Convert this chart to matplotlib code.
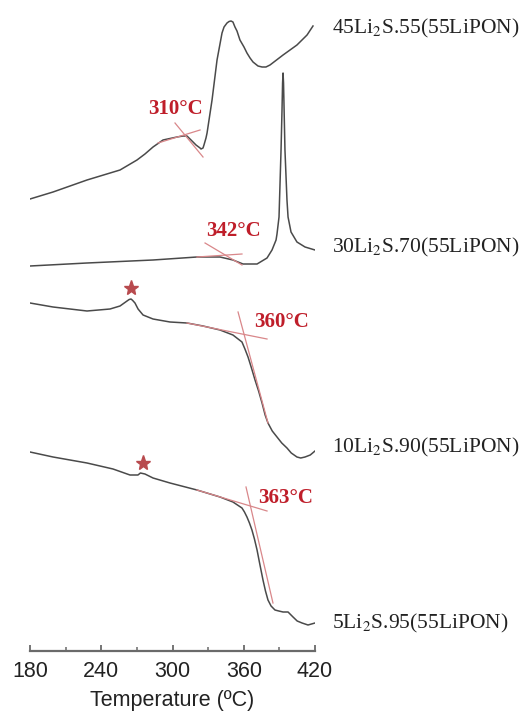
import matplotlib
matplotlib.use("Agg")
import matplotlib.pyplot as plt
from matplotlib.ticker import MultipleLocator

plt.rcParams['mathtext.fontset'] = 'stix'

# DSC traces, temperature (C) and heat flow (a.u., offset)
t1 = [180, 199.4, 228, 255.8, 270.1, 276.8, 283.6, 292, 303.8, 308.8, 312.2, 317.3, 319.8, 323.2,
      324.0, 325.7, 326.5, 328.2, 329.1, 333.3, 337.5, 341.7, 343.4, 345.9, 347.6, 349.3, 350.9,
      352.6, 354.3, 356.8, 360.2, 362.7, 365.3, 367.8, 372.0, 375.4, 378.7, 382.1, 393.1, 404.8,
      413.3, 418.3]
h1 = [45.2, 45.9, 47.1, 48.1, 49.1, 49.7, 50.4, 51.1, 51.4, 51.5, 51.5, 50.9, 50.6, 50.3,
      50.2, 50.3, 50.6, 51.3, 51.8, 55.1, 59.1, 61.8, 62.4, 62.8, 62.95, 63.0, 62.9,
      62.4, 62.0, 61.1, 60.4, 59.8, 59.3, 58.9, 58.5, 58.4, 58.4, 58.6, 59.6, 60.6,
      61.6, 62.5]

t2 = [180, 228, 283.6, 320.6, 340, 350.9, 359.4, 371.2, 379.6, 383.8, 387.2, 388.0, 389.7, 391.4,
      392.2, 392.7, 393.1, 393.5, 394.0, 394.7, 396.4, 397.3, 399.8, 404.8, 411.6, 420]
h2 = [38.5, 38.8, 39.1, 39.4, 39.4, 39.1, 38.7, 38.7, 39.3, 40.1, 41.1, 41.7, 43.4, 50.1,
      54.0, 56.8, 57.8, 56.8, 54.0, 50.1, 45.1, 43.4, 41.9, 40.9, 40.4, 40.1]

t3 = [180, 199.4, 228, 247.4, 255.8, 261.7, 263.5, 265.1, 266.5, 268.4, 271.0, 275.2, 283.6, 297.9,
      312.2, 325.7, 340, 350.9, 358.5, 361.0, 363.6, 366.5, 369.5, 372.5, 375.4, 378.0, 380.4,
      384.0, 388, 392.0, 396.4, 400.0, 404.8, 408.0, 411.6, 416.0, 420]
h3 = [34.8, 34.4, 34.0, 34.2, 34.5, 35.0, 35.15, 35.2, 35.05, 34.8, 34.2, 33.6, 33.2, 32.9,
      32.8, 32.5, 32.1, 31.6, 30.9, 30.2, 29.4, 28.3, 27.1, 26.0, 24.8, 23.6, 22.8,
      22.0, 21.4, 20.8, 20.3, 19.8, 19.4, 19.3, 19.4, 19.6, 20.0]

t4 = [180, 199.4, 228, 249.9, 264.2, 270.9, 273, 276.8, 283.6, 297.9, 320.6, 340, 350.9, 358.5,
      360.6, 362.7, 364.8, 366.9, 369.0, 371.2, 373.5, 376.2, 378.3, 380.4, 383.0, 386.3, 389.5,
      393.1, 397.3, 401.5, 405.0, 409.1, 414.1, 420]
h4 = [19.9, 19.4, 18.8, 18.2, 17.6, 17.6, 17.8, 17.7, 17.3, 16.8, 16.1, 15.4, 14.9, 14.3,
      13.9, 13.4, 12.8, 12.1, 11.2, 10.1, 8.7, 7.1, 6.0, 5.1, 4.5, 4.1, 4.0,
      3.9, 3.9, 3.4, 3.0, 2.8, 2.6, 2.8]

names = ["45Li$_2$S.55(55LiPON)", "30Li$_2$S.70(55LiPON)",
         "10Li$_2$S.90(55LiPON)", "5Li$_2$S.95(55LiPON)"]
name_h = [62.3, 40.4, 20.4, 2.8]

# onset tangent lines: (T1, h1, T2, h2)
tangents = [
    [(287.8, 50.8, 323.2, 52.1), (302.1, 52.8, 325.7, 49.4)],
    [(327.4, 40.8, 358.5, 38.6), (320.6, 39.4, 358.5, 39.7)],
    [(312.2, 32.8, 379.6, 31.2), (355.2, 33.9, 380.4, 22.8)],
    [(320.6, 16.1, 379.6, 14.0), (361.9, 16.4, 384.6, 4.8)],
]
onsets = ["310°C", "342°C", "360°C", "363°C"]
onset_T = [302.5, 351.4, 392.2, 395.2]
onset_h = [54.2, 42.0, 32.9, 15.3]

star_T = [265.1, 275.2]
star_h = [36.3, 18.8]

fig = plt.figure(figsize=(5.24, 7.13), dpi=100)
ax = fig.add_axes([30/524, 62/713, 285/524, 651/713])

for t, h in [(t1, h1), (t2, h2), (t3, h3), (t4, h4)]:
    ax.plot(t, h, color='#4a4a4a', lw=1.1, solid_joinstyle='round')

for pair in tangents:
    for (xa, ya, xb, yb) in pair:
        ax.plot([xa, xb], [ya, yb], color='#d9878a', lw=0.9)

for lab, x, y in zip(onsets, onset_T, onset_h):
    ax.text(x, y, lab, color='#bf1e2a', fontsize=15, fontweight='bold',
            family='Liberation Serif', ha='center', va='center')

ax.plot(star_T, star_h, linestyle='none', marker='*', ms=11, color='#b84a4e', mec='#b84a4e')

for lab, y in zip(names, name_h):
    ax.text(434.3, y, lab, fontsize=15.5, family='Liberation Serif', color='#222222',
            ha='left', va='center', clip_on=False)

ax.set_xlim(180, 420)
ax.set_ylim(0, 65.1)
ax.xaxis.set_major_locator(MultipleLocator(60))
ax.xaxis.set_minor_locator(MultipleLocator(30))
for s in ['left', 'right', 'top']:
    ax.spines[s].set_visible(False)
ax.spines['bottom'].set_color('#6a6a6a')
ax.spines['bottom'].set_linewidth(1.6)
ax.set_yticks([])
ax.tick_params(axis='x', which='major', direction='in', length=4, width=1.3, color='#6a6a6a',
               pad=7, labelsize=15.5, labelcolor='#222222')
ax.tick_params(axis='x', which='minor', direction='in', length=3, width=1.1, color='#6a6a6a')
for lbl in ax.get_xticklabels():
    lbl.set_family('Liberation Sans')
ax.set_xlabel("Temperature (ºC)", fontsize=15.5, family='Liberation Sans', color='#222222', labelpad=6)
ax.patch.set_visible(False)

fig.savefig("out.png", dpi=100)
